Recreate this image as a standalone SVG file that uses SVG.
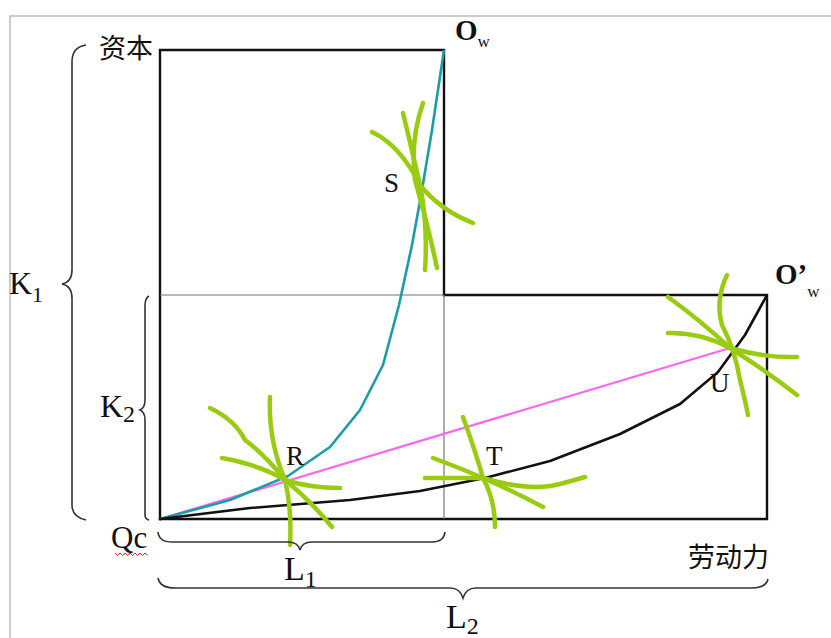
<svg xmlns="http://www.w3.org/2000/svg" width="831" height="638" viewBox="0 0 831 638">
<style>
.frame{fill:none;stroke:#cccccc;stroke-width:2}
.box{fill:none;stroke:#111;stroke-width:2.4;stroke-linecap:square}
.thin{fill:none;stroke:#777;stroke-width:1.2}
.brace{fill:none;stroke:#333;stroke-width:1.6}
.green{fill:none;stroke:#99cc11;stroke-width:4.5;stroke-linecap:round;stroke-linejoin:round}
.lbl{font-family:"Liberation Serif","Times New Roman",serif;fill:#111}
.cjk{font-family:"Noto Sans CJK SC","Noto Sans",sans-serif;fill:#111;font-size:27px}
</style>
<rect width="831" height="638" fill="#ffffff"/>
<path class="frame" d="M10,638 L10,16 L831,16"/>

<g id="boxes">
<path class="box" d="M160,519 L160,50 L444,50 L444,295"/>
<path class="box" d="M444,295 L767,295 L767,519 L160,519"/>
<path class="thin" d="M160,295 L444,295 M444,295 L444,519"/>
</g>

<g id="connectors">
<polyline fill="none" stroke="#ff66ee" stroke-width="2.2" points="160,519 730,348"/>
<path fill="none" stroke="#1a9ea6" stroke-width="2.6" stroke-linejoin="round" d="M160,519 L230,500 L288,476 L330,447 L360,410 L383,365 L399,305 L412,245 L422,190 L432,130 L444,50"/>
<path fill="none" stroke="#111" stroke-width="2.6" stroke-linejoin="round" d="M160,519 L250,508 L350,500 L420,491 L485,478 L550,461 L620,434 L680,404 L718,372 L745,335 L767,295"/>
</g>

<g id="star-S">
<path class="green" d="M372,132 Q400,145 420,185 Q440,210 473,223"/>
<path class="green" d="M403,113 Q412,150 420,185 Q428,225 425,270"/>
<path class="green" d="M423,103 Q410,140 415,180 Q428,225 437,268"/>
</g>
<g id="star-R">
<path class="green" d="M210,408 Q235,420 245,440 Q265,455 285,480 Q310,500 332,527"/>
<path class="green" d="M270,397 Q268,440 285,480 Q292,510 290,545"/>
<path class="green" d="M222,458 Q260,465 285,480 Q310,488 340,488"/>
</g>
<g id="star-T">
<path class="green" d="M463,417 Q475,450 483,478 Q495,500 495,527"/>
<path class="green" d="M425,478 L483,478 Q530,492 560,484 Q575,480 585,477"/>
<path class="green" d="M433,458 Q460,468 483,478 Q515,492 543,507"/>
</g>
<g id="star-U">
<path class="green" d="M668,297 Q700,320 730,348 Q765,370 797,395"/>
<path class="green" d="M727,275 Q715,300 722,325 Q735,350 740,380 Q745,400 748,415"/>
<path class="green" d="M668,333 Q700,332 730,348 Q765,358 797,357"/>
</g>

<g id="braces">
<path class="brace" d="M86,45 Q72,47 72,62 L72,270 Q72,282 62,284 Q72,286 72,298 L72,505 Q72,517 86,520"/>
<path class="brace" d="M149,296 Q145,298 145,306 L145,400 Q145,408 140,410 Q145,412 145,420 L145,515 Q145,519 149,520"/>
<path class="brace" d="M158,532 Q159,542 172,542 L288,542 Q298,542 300,550 Q302,542 312,542 L432,542 Q444,542 445,532"/>
<path class="brace" d="M158,578 Q160,588 175,588 L450,588 Q460,588 463,598 Q466,588 476,588 L752,588 Q766,588 768,579"/>
</g>

<g id="labels">
<text class="cjk" x="99" y="58">资本</text>
<text class="lbl" x="455" y="40" font-size="29" font-weight="bold">O<tspan font-size="17" font-weight="normal" dy="7">w</tspan></text>
<text class="lbl" x="384" y="192" font-size="27">S</text>
<text class="lbl" x="286" y="465" font-size="27">R</text>
<text class="lbl" x="486" y="465" font-size="27">T</text>
<text class="lbl" x="710" y="392" font-size="27">U</text>
<text class="lbl" x="775" y="284" font-size="29" font-weight="bold">O’<tspan font-size="17" font-weight="normal" dy="13">w</tspan></text>
<text class="lbl" x="9" y="294" font-size="32">K<tspan font-size="22" dy="8">1</tspan></text>
<text class="lbl" x="100" y="417" font-size="32">K<tspan font-size="24" dy="5">2</tspan></text>
<text class="lbl" x="111" y="548" font-size="31">Qc</text>
<path fill="none" stroke="#ee2222" stroke-width="1" d="M115,553 l2.5,2.5 l2.5,-2.5 l2.5,2.5 l2.5,-2.5 l2.5,2.5 l2.5,-2.5 l2.5,2.5 l2.5,-2.5 l2.5,2.5 l2.5,-2.5 l2.5,2.5 l2.5,-2.5 l2.5,2.5"/>
<text class="lbl" x="284" y="580" font-size="34">L<tspan font-size="24" dy="7">1</tspan></text>
<text class="lbl" x="446" y="628" font-size="34">L<tspan font-size="24" dy="6">2</tspan></text>
<text class="cjk" x="688" y="567" font-size="28">劳动力</text>
</g>
</svg>
